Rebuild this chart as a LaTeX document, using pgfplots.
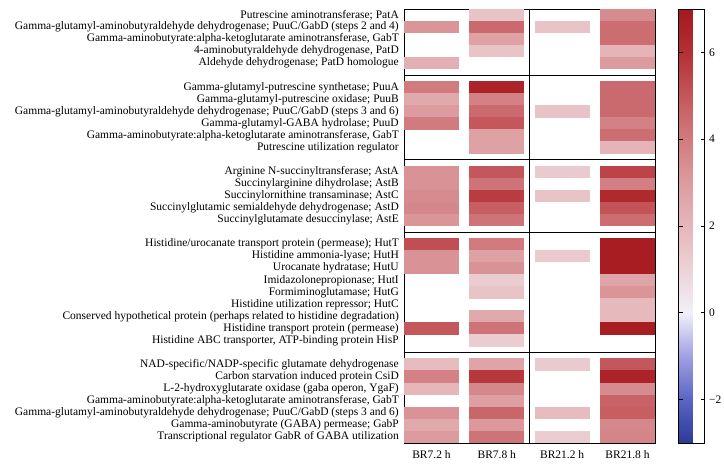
\documentclass[border=0pt]{standalone}
\usepackage{pgfplots}
\pgfplotsset{compat=1.18}
\usepackage{fontspec}
\setmainfont{Liberation Serif}
\pgfdeclareplotmark{cell}{\pgfpathrectangle{\pgfpoint{-27.5pt}{-6.2pt}}{\pgfpoint{55pt}{12.4pt}}\pgfusepathqfill}
\begin{document}
\begin{tikzpicture}
\begin{axis}[
  scale only axis, width=251pt, height=434pt,
  xmin=-0.421, xmax=3.421, ymin=-0.5, ymax=35.5, y dir=reverse,
  xtick={0,1,2,3}, xticklabels={BR7.2 h,BR7.8 h,BR21.2 h,BR21.8 h},
  xticklabel style={yshift=-4pt},
  ytick={0,...,35},
  yticklabels={
    {Putrescine aminotransferase; PatA},
    {Gamma-glutamyl-aminobutyraldehyde dehydrogenase; PuuC/GabD (steps 2 and 4)},
    {Gamma-aminobutyrate:alpha-ketoglutarate aminotransferase, GabT},
    {4-aminobutyraldehyde dehydrogenase, PatD},
    {Aldehyde dehydrogenase; PatD homologue},
    {},
    {Gamma-glutamyl-putrescine synthetase; PuuA},
    {Gamma-glutamyl-putrescine oxidase; PuuB},
    {Gamma-glutamyl-aminobutyraldehyde dehydrogenase; PuuC/GabD (steps 3 and 6)},
    {Gamma-glutamyl-GABA hydrolase; PuuD},
    {Gamma-aminobutyrate:alpha-ketoglutarate aminotransferase, GabT},
    {Putrescine utilization regulator},
    {},
    {Arginine N-succinyltransferase; AstA},
    {Succinylarginine dihydrolase; AstB},
    {Succinylornithine transaminase; AstC},
    {Succinylglutamic semialdehyde dehydrogenase; AstD},
    {Succinylglutamate desuccinylase; AstE},
    {},
    {Histidine/urocanate transport protein (permease); HutT},
    {Histidine ammonia-lyase; HutH},
    {Urocanate hydratase; HutU},
    {Imidazolonepropionase; HutI},
    {Formiminoglutamase; HutG},
    {Histidine utilization repressor; HutC},
    {Conserved hypothetical protein (perhaps related to histidine degradation)},
    {Histidine transport protein (permease)},
    {Histidine ABC transporter, ATP-binding protein HisP},
    {},
    {NAD-specific/NADP-specific glutamate dehydrogenase},
    {Carbon starvation induced protein CsiD},
    {L-2-hydroxyglutarate oxidase (gaba operon, YgaF)},
    {Gamma-aminobutyrate:alpha-ketoglutarate aminotransferase, GabT},
    {Gamma-glutamyl-aminobutyraldehyde dehydrogenase; PuuC/GabD (steps 3 and 6)},
    {Gamma-aminobutyrate (GABA) permease; GabP},
    {Transcriptional regulator GabR of GABA utilization}
  },
  yticklabel style={inner sep=1pt, xshift=-4pt},
  major tick length=0pt,
  tick label style={font=\fontsize{11.5}{12}\selectfont},
  axis line style={black, line width=0.8pt},
  colormap={bwr}{rgb255(0)=(44,58,152) rgb255(1)=(90,100,195) rgb255(2)=(160,160,228) rgb255(3)=(242,240,248) rgb255(4.5)=(233,196,199) rgb255(6)=(220,156,159) rgb255(7.5)=(203,106,110) rgb255(9)=(180,48,52) rgb255(10)=(164,24,30)},
  point meta min=-3, point meta max=7,
  colorbar,
  colorbar style={
    at={(parent axis.north east)}, anchor=north west, xshift=15pt,
    width=26pt,
    ytick={-2,0,2,4,6}, yticklabels={−2,0,2,4,6},
    ytick pos=both, yticklabel pos=right,
    tick align=inside, major tick length=4pt,
    tick style={black, line width=0.6pt},
    axis line style={black, line width=0.6pt},
    yticklabel style={font=\fontsize{11.5}{12}\selectfont, xshift=1pt},
  },
]
\addplot[scatter, only marks, mark=cell, scatter src=explicit,
  scatter/use mapped color={fill=mapped color, draw=none}]
  table[x=x, y=y, meta=v] {
x y v
1 0 1.5
3 0 3.5
0 1 3.2
1 1 4.5
2 1 1.5
3 1 4.4
1 2 2.8
3 2 4.4
1 3 1.5
3 3 2.1
0 4 2.3
3 4 3.0
0 6 4.0
1 6 6.5
3 6 4.5
0 7 2.5
1 7 3.8
3 7 4.5
0 8 3.0
1 8 4.5
2 8 1.5
3 8 4.5
0 9 4.0
1 9 5.0
3 9 3.8
1 10 2.8
3 10 4.4
1 11 2.8
3 11 2.1
0 13 3.3
1 13 5.0
2 13 1.3
3 13 5.5
0 14 3.3
1 14 4.2
3 14 3.9
0 15 3.5
1 15 5.7
2 15 1.5
3 15 6.3
0 16 3.6
1 16 4.8
3 16 5.1
0 17 3.2
1 17 4.2
3 17 4.4
0 19 5.2
1 19 4.0
3 19 6.8
0 20 3.3
1 20 2.8
2 20 1.3
3 20 6.8
0 21 3.3
1 21 3.3
3 21 6.8
1 22 1.2
3 22 2.7
1 23 1.5
3 23 3.2
3 24 1.9
1 25 2.5
3 25 1.9
0 26 5.0
1 26 4.2
3 26 6.8
1 27 1.2
0 29 1.8
1 29 2.7
2 29 1.3
3 29 5.0
0 30 3.8
1 30 5.8
3 30 6.5
0 31 2.0
1 31 3.6
3 31 3.5
1 32 2.9
3 32 4.7
0 33 3.3
1 33 4.6
2 33 1.8
3 33 4.8
0 34 2.5
1 34 3.1
3 34 3.6
0 35 3.0
1 35 4.2
2 35 1.2
3 35 3.7
};
\addplot[black, line width=0.8pt, forget plot] coordinates {(1.5,-0.5) (1.5,35.5)};
\addplot[black, line width=0.8pt, forget plot] coordinates {(-0.421,5) (3.421,5)};
\addplot[black, line width=0.8pt, forget plot] coordinates {(-0.421,12) (3.421,12)};
\addplot[black, line width=0.8pt, forget plot] coordinates {(-0.421,18) (3.421,18)};
\addplot[black, line width=0.8pt, forget plot] coordinates {(-0.421,28) (3.421,28)};
\coordinate (plotSW) at (axis description cs:0,0);
\end{axis}
\pgfresetboundingbox
\path[use as bounding box] ([shift={(-404pt,-22pt)}]plotSW) rectangle ([shift={(320pt,443pt)}]plotSW);
\end{tikzpicture}
\end{document}
